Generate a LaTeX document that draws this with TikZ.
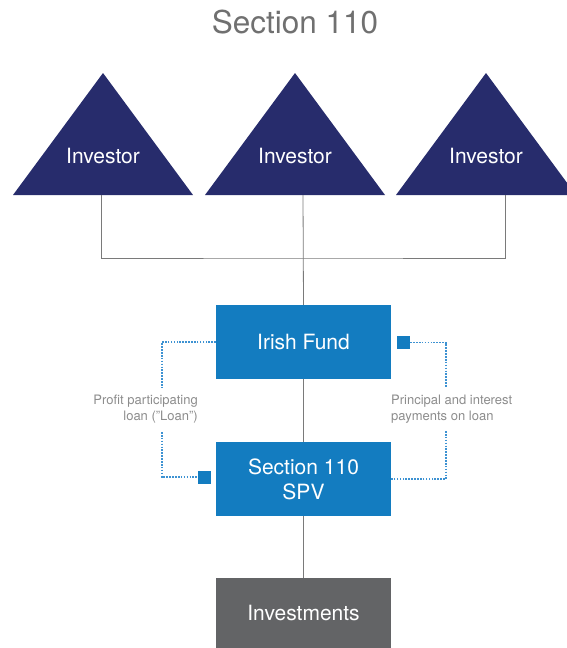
\documentclass[tikz,border=0pt]{standalone}
\usepackage{fontspec}
\setmainfont{TeX Gyre Heros}
\definecolor{navy}{HTML}{272C6C}
\definecolor{fundblue}{HTML}{137CC0}
\definecolor{dotblue}{HTML}{3D92D2}
\definecolor{boxgray}{HTML}{636466}
\definecolor{linegray}{HTML}{7A7A7A}
\definecolor{labelgray}{HTML}{8C8C8C}
\definecolor{titlegray}{HTML}{707070}

\begin{document}
\begin{tikzpicture}[x=1pt,y=-1pt,
  entity/.style={fill=fundblue,text=white,minimum width=175pt,minimum height=74pt,inner sep=0pt,align=center,font=\fontsize{21}{25}\selectfont},
  link/.style={draw=linegray,line width=0.8pt},
  flow/.style={draw=dotblue,line width=1.7pt,dash pattern=on 1.6pt off 1.3pt},
  marker/.style={fill=fundblue,minimum size=13pt,inner sep=0pt},
  note/.style={text=labelgray,font=\fontsize{13}{16.5}\selectfont,inner sep=0pt}]
  \useasboundingbox (0,0) rectangle (566,648);
  \node[text=titlegray,font=\fontsize{31.5}{36}\selectfont] (title) at (295,22) {Section 110};

  % investors
  \foreach \cx/\name in {103/invA,295/invB,486/invC}{
    \fill[navy] (\cx-90,195) -- (\cx,73) -- (\cx+90,195) -- cycle;
    \node[text=white,font=\fontsize{21}{25}\selectfont] (\name) at (\cx,156) {Investor};
  }
  \coordinate (legA) at (101,195);
  \coordinate (legB) at (303,195);
  \coordinate (legC) at (505,195);
  \coordinate (hub) at (303,258);

  % boxes
  \node[entity] (fund) at (303.5,342) {Irish Fund};
  \node[entity] (spv) at (303.5,479) {Section 110\\SPV};
  \node[entity,fill=boxgray,minimum height=70pt] (invest) at (303.5,613) {Investments};

  \draw[link] (legA) |- (hub) -| (legC);
  \draw[link] (legB) -- (fund.north);
  \draw[link] (fund.south) -- (spv.north);
  \draw[link] (spv.south) -- (invest.north);

  % loan flows
  \node[marker] (sqL) at (204.5,477) {};
  \node[marker] (sqR) at (403.5,342.5) {};
  \coordinate (loanTop) at (162,387);
  \coordinate (loanBot) at (162,432);
  \coordinate (payTop) at (446,387);
  \coordinate (payBot) at (446,431);
  \draw[flow] (fund.west) -| (loanTop);
  \draw[flow] (loanBot) |- (sqL.west);
  \draw[flow] (sqR.east) -| (payTop);
  \draw[flow] (payBot) |- (spv.east);

  \node[note,anchor=east,align=right] (loan) at (198,409) {Profit participating\\loan (\symbol{34}Loan\symbol{34})};
  \node[note,anchor=west,align=left] (pay) at (391,409) {Principal and interest\\payments on loan};
\end{tikzpicture}
\end{document}
